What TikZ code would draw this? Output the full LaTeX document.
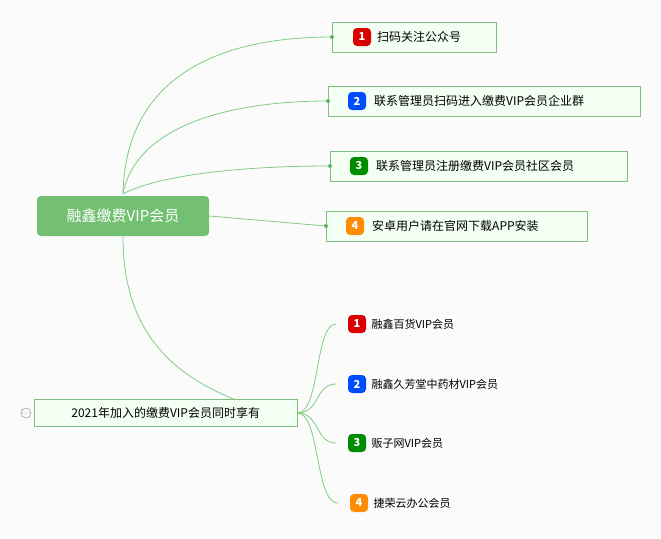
\documentclass[tikz,border=0pt]{standalone}
\usepackage{fontspec}
\setmainfont{Noto Sans CJK SC}
\begin{document}
\begin{tikzpicture}[x=1pt,y=-1pt,
  topic/.style={draw=green!50!black!50, fill=green!5, minimum height=30, inner xsep=0, align=left, font=\fontsize{12}{14}\selectfont, anchor=west},
  badge/.style={rounded corners=4, fill=#1, minimum size=18, inner sep=0, text=white, font=\fontsize{11}{12}\selectfont\itshape\bfseries},
  link/.style={draw=green!60!black!50, thick},
  item/.style={font=\fontsize{11}{13}\selectfont, anchor=west}]
\fill[gray!3] (0,0) rectangle (661,538);
\useasboundingbox (0,0) rectangle (661,538);
% root
\node[fill=green!55!black!55, rounded corners=4, minimum width=172, minimum height=40, text=white, font=\fontsize{15}{17}\selectfont] (root) at (123,216) {融鑫缴费VIP会员};
% topics
\node[topic, text width=164] (t1) at (332,37) {\hspace*{45pt}扫码关注公众号};
\node[topic, text width=312] (t2) at (328,101) {\hspace*{46pt}联系管理员扫码进入缴费VIP会员企业群};
\node[topic, text width=297] (t3) at (330,166) {\hspace*{46pt}联系管理员注册缴费VIP会员社区会员};
\node[topic, text width=261] (t4) at (326,226) {\hspace*{46pt}安卓用户请在官网下载APP安装};
\node[topic, text width=263, minimum height=27, align=center] (t5) at (34,413) {2021年加入的缴费VIP会员同时享有};
\node[badge=red!85!black] (b1) at (362,37) {1};
\node[badge=blue!70!cyan] (b2) at (357,101) {2};
\node[badge=green!55!black] (b3) at (359,166) {3};
\node[badge=orange!90!yellow] (b4) at (355,226) {4};
\draw[gray] (26,413) circle (5) (22,413) -- (30,413);
% sub items
\node[badge=red!85!black] (s1) at (357,324) {1};
\node[item] (i1) at (368,324) {融鑫百货VIP会员};
\node[badge=blue!70!cyan] (s2) at (357,384) {2};
\node[item] (i2) at (368,384) {融鑫久芳堂中药材VIP会员};
\node[badge=green!55!black] (s3) at (357,443) {3};
\node[item] (i3) at (368,443) {贩子网VIP会员};
\node[badge=orange!90!yellow] (s4) at (359,503) {4};
\node[item] (i4) at (370,503) {捷荣云办公会员};
% connectors
\draw[link] (root.north) ++(0,-2) .. controls (125,90) and (200,37) .. (t1.west);
\draw[link] (root.north) ++(0,-2) .. controls (135,130) and (220,101) .. (t2.west);
\draw[link] (root.north) ++(0,-2) .. controls (160,175) and (240,166) .. (t3.west);
\draw[link] (root.east) -- (t4.west);
\draw[link] (root.south) .. controls (123,320) and (160,370) .. (236,400);
\fill[green!50!black!60] (t1.west) circle (2) (t2.west) circle (2) (t3.west) circle (2) (t4.west) circle (2);
\foreach \s/\y in {s1/324,s2/384,s3/443,s4/503}
  \draw[link] (t5.east) .. controls (320,413) and (315,\y) .. ([xshift=-12pt]\s.west);
\end{tikzpicture}
\end{document}
